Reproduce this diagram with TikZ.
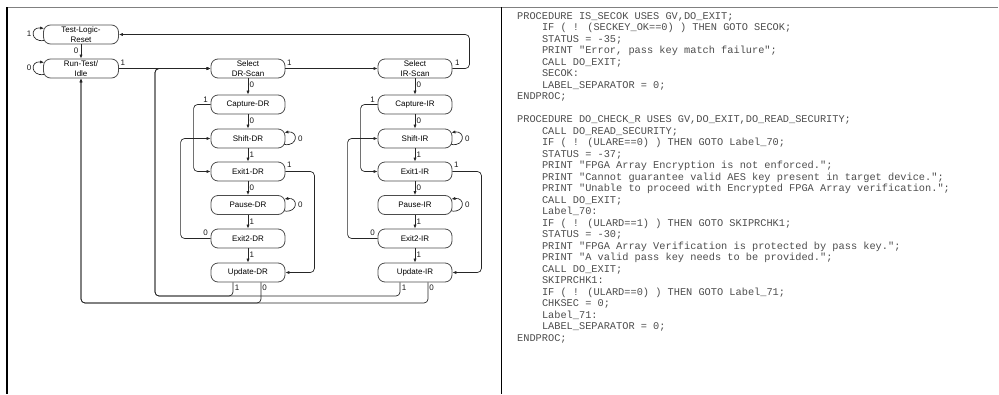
\documentclass[tikz,border=0pt]{standalone}
\usepackage{fontspec}
\setmainfont{Liberation Sans}
\newfontfamily\codefont{Liberation Mono}
\usetikzlibrary{arrows.meta,calc}
\begin{document}
\begin{tikzpicture}[x=1pt,y=-1pt,
  st/.style={draw=black!70, line width=0.8pt, rounded corners=7pt, minimum width=74pt, minimum height=19pt, inner sep=0pt, align=center, font=\fontsize{8}{9.5}\selectfont},
  lbl/.style={font=\fontsize{8}{8}\selectfont, inner sep=0pt, text=black!90},
  arr/.style={draw=black!85, line width=0.7pt, rounded corners=4pt, -{Latex[length=4pt,width=3.2pt]}},
  code/.style={font=\codefont\fontsize{10.3}{11.5}\selectfont, text=black!70, inner sep=0pt, anchor=base west}
]
\useasboundingbox (0,0) rectangle (999,394);
% frame
\draw[black!50, line width=1pt] (7,7) -- (998,7);
\draw[black, line width=1.2pt] (7,7) -- (7,394);
\draw[black, line width=1.2pt] (501.5,7) -- (501.5,394);

% states
\node[st, minimum width=75pt] (tlr) at (81,34.5) {Test-Logic-\\Reset};
\node[st, minimum width=75pt] (rti) at (81,68.5) {Run-Test/\\Idle};
\node[st] (sds) at (248,68.5) {Select\\DR-Scan};
\node[st] (sis) at (415,68.5) {Select\\IR-Scan};
\node[st] (cdr) at (248,104.5) {Capture-DR};
\node[st] (shdr) at (248,138.5) {Shift-DR};
\node[st] (e1dr) at (248,171.5) {Exit1-DR};
\node[st] (pdr) at (248,205) {Pause-DR};
\node[st] (e2dr) at (248,238.5) {Exit2-DR};
\node[st] (udr) at (248,272.5) {Update-DR};
\node[st] (cir) at (415,104.5) {Capture-IR};
\node[st] (shir) at (415,138.5) {Shift-IR};
\node[st] (e1ir) at (415,171.5) {Exit1-IR};
\node[st] (pir) at (415,205) {Pause-IR};
\node[st] (e2ir) at (415,238.5) {Exit2-IR};
\node[st] (uir) at (415,272.5) {Update-IR};

% corner coordinates
\coordinate (b1) at (155,296);
\coordinate (b0) at (81,303);

% top part
\draw[arr] (tlr) -- (rti);
\node[lbl] (l0) at ($(tlr.south)+(-5,6)$) {0};
\draw[arr] (rti) -- (sds);
\node[lbl] (l1) at ($(rti.east)+(4,-6)$) {1};
\draw[arr] (sds) -- (sis);
\node[lbl] (l2) at ($(sds.east)+(4,-6)$) {1};
\draw[arr] (sis.east) -- ++(17,0) |- (tlr.east);
\node[lbl] (l3) at ($(sis.east)+(5,-6)$) {1};

% self loops left
\draw[arr] ($(tlr.west)+(1,6)$) .. controls +(-14,2) and +(-14,-2) .. ($(tlr.west)+(1,-6)$);
\node[lbl] (l4) at ($(tlr.west)+(-14,-1)$) {1};
\draw[arr] ($(rti.west)+(1,6)$) .. controls +(-14,2) and +(-14,-2) .. ($(rti.west)+(1,-6)$);
\node[lbl] (l5) at ($(rti.west)+(-14,-1)$) {0};

% columns
\foreach \s/\c/\sh/\ea/\p/\eb/\u in {sds/cdr/shdr/e1dr/pdr/e2dr/udr, sis/cir/shir/e1ir/pir/e2ir/uir}{
  \draw[arr] (\s) -- (\c);
  \node[lbl, anchor=west] at ($(\s.south)+(1.5,6.5)$) {0};
  \draw[arr] (\c) -- (\sh);
  \node[lbl, anchor=west] at ($(\c.south)+(1.5,6.5)$) {0};
  \draw[arr] (\sh) -- (\ea);
  \node[lbl, anchor=west] at ($(\sh.south)+(1.5,6.5)$) {1};
  \draw[arr] (\ea) -- (\p);
  \node[lbl, anchor=west] at ($(\ea.south)+(1.5,6.5)$) {0};
  \draw[arr] (\p) -- (\eb);
  \node[lbl, anchor=west] at ($(\p.south)+(1.5,6.5)$) {1};
  \draw[arr] (\eb) -- (\u);
  \node[lbl, anchor=west] at ($(\eb.south)+(1.5,6.5)$) {1};
  % capture -> exit1
  \draw[arr] (\c.west) -- ++(-17,0) |- (\ea.west);
  \node[lbl] at ($(\c.west)+(-5,-5)$) {1};
  % exit2 -> shift
  \draw[arr] (\eb.west) -- ++(-30,0) |- (\sh.west);
  \node[lbl] at ($(\eb.west)+(-5,-6)$) {0};
  % exit1 -> update
  \draw[arr] (\ea.east) -- ++(29,0) |- (\u.east);
  \node[lbl] at ($(\ea.east)+(4,-7)$) {1};
  % self loops right
  \draw[arr] ($(\sh.east)+(-1,6)$) .. controls +(14,2) and +(14,-2) .. ($(\sh.east)+(-1,-6)$);
  \node[lbl] at ($(\sh.east)+(15,0)$) {0};
  \draw[arr] ($(\p.east)+(-1,6)$) .. controls +(14,2) and +(14,-2) .. ($(\p.east)+(-1,-6)$);
  \node[lbl] at ($(\p.east)+(15,0)$) {0};
  % update exits
  \draw[arr] ($(\u.south)+(-15,0)$) |- (b1) |- (sds.west);
  \node[lbl] at ($(\u.south)+(-11,5)$) {1};
  \draw[arr] ($(\u.south)+(13,0)$) |- (b0) -- (rti.south);
  \node[lbl] at ($(\u.south)+(16.5,5)$) {0};
}

% code
\foreach \ind/\txt [count=\i from 0] in {
 0/{PROCEDURE IS\_SECOK USES GV,DO\_EXIT;},
 1/{IF ( ! (SECKEY\_OK==0) ) THEN GOTO SECOK;},
 1/{STATUS = -35;},
 1/{PRINT "Error, pass key match failure";},
 1/{CALL DO\_EXIT;},
 1/{SECOK:},
 1/{LABEL\_SEPARATOR = 0;},
 0/{ENDPROC;}}{
  \node[code] (c\i) at ({517+24.8*\ind},{19+11.5*\i}) {\txt};
}
\foreach \ind/\txt [count=\i from 9] in {
 0/{PROCEDURE DO\_CHECK\_R USES GV,DO\_EXIT,DO\_READ\_SECURITY;},
 1/{CALL DO\_READ\_SECURITY;},
 1/{IF ( ! (ULARE==0) ) THEN GOTO Label\_70;},
 1/{STATUS = -37;},
 1/{PRINT "FPGA Array Encryption is not enforced.";},
 1/{PRINT "Cannot guarantee valid AES key present in target device.";},
 1/{PRINT "Unable to proceed with Encrypted FPGA Array verification.";},
 1/{CALL DO\_EXIT;},
 1/{Label\_70:},
 1/{IF ( ! (ULARD==1) ) THEN GOTO SKIPRCHK1;},
 1/{STATUS = -30;},
 1/{PRINT "FPGA Array Verification is protected by pass key.";},
 1/{PRINT "A valid pass key needs to be provided.";},
 1/{CALL DO\_EXIT;},
 1/{SKIPRCHK1:},
 1/{IF ( ! (ULARD==0) ) THEN GOTO Label\_71;},
 1/{CHKSEC = 0;},
 1/{Label\_71:},
 1/{LABEL\_SEPARATOR = 0;},
 0/{ENDPROC;}}{
  \node[code] (c\i) at ({517+24.8*\ind},{19+11.5*\i}) {\txt};
}
\end{tikzpicture}
\end{document}
